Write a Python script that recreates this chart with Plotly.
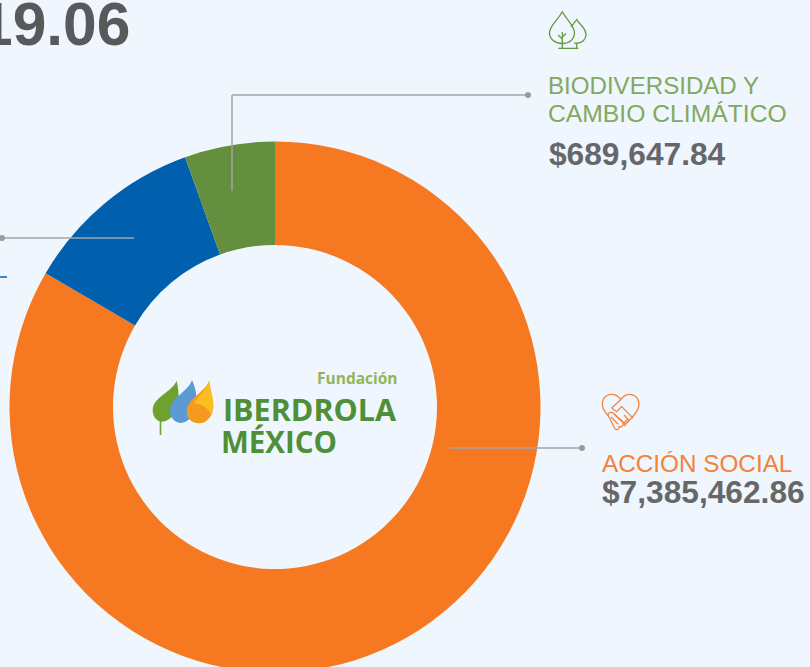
import plotly.graph_objects as go

W, H = 810, 680
BG = "#EFF6FD"

categories = ["Acción Social", "Educación", "Biodiversidad y Cambio Climático"]
drawn_share = [83.4, 11.1, 5.5]
slice_colors = ["#F67821", "#0060AD", "#648F3F"]

GRAY = "#666769"
LINE = "#A3A5A8"
GREEN_T = "#82A95E"
ORANGE_T = "#F58238"

def px(x): return x / W
def py(y): return 1 - y / H

fig = go.Figure(go.Pie(
    labels=categories, values=drawn_share, hole=162 / 265.5, sort=False,
    direction="clockwise", rotation=0, textinfo="none", hoverinfo="skip",
    marker=dict(colors=slice_colors, line=dict(width=0)), showlegend=False,
    domain=dict(x=[px(9.5), px(540.5)], y=[py(672.5), py(141.5)]),
))

shapes = []
def line(x0, y0, x1, y1, color=LINE, w=1.5):
    shapes.append(dict(type="line", xref="paper", yref="paper", x0=px(x0), y0=py(y0), x1=px(x1), y1=py(y1),
                       line=dict(color=color, width=w), layer="above"))
def dot(x, y, r=3, color="#9A9CA0"):
    shapes.append(dict(type="circle", xref="paper", yref="paper", x0=px(x-r), y0=py(y-r), x1=px(x+r), y1=py(y+r),
                       fillcolor=color, line=dict(width=0), layer="above"))
def svg(d, fill=None, stroke=None, w=1.3):
    shapes.append(dict(type="path", xref="x", yref="y", path=d, layer="above",
                       fillcolor=fill if fill else "rgba(0,0,0,0)",
                       line=dict(color=stroke if stroke else "rgba(0,0,0,0)", width=w if stroke else 0)))

line(232, 95, 528, 95); line(232, 95, 232, 191); dot(528, 95)
line(2, 238, 134, 238); dot(2, 238)
line(449, 448, 582, 448); dot(582, 448)
line(0, 277, 7, 277, "#0060AD", 1.5)

# tree icon
TG = "#629A3D"
svg("M562.3,11.7 C557,21 549.5,26 549.5,33 C549.5,39 555,43.5 562.3,43.5 C569.5,43.5 574.5,39 574.5,33 C574.5,26 567.5,21 562.3,11.7 Z", stroke=TG)
svg("M571,27 C573,24 575,22 576.7,19.5 C579,24 586,28 586,34.5 C586,39.5 582,43.2 576.7,43.2 L574,43.2", stroke=TG)
svg("M562.3,32 L562.3,48.3 M558.3,48.3 L578.3,48.3 M576.7,43 L576.7,48.3 M562.3,39 L558,35 M562.3,37 L566,33.5", stroke=TG)

# handshake heart icon
HO = ORANGE_T
svg("M608.5,416 C604.5,412 602.3,408.5 602.3,403.5 C602.3,398 606.5,394.3 611.5,394.3 C615.5,394.3 618.5,396.3 620.7,399.5 C623,396.3 626,394.3 630,394.3 C635,394.3 639,398.5 639,404 C639,409 636,413 632.5,417 L624,426", stroke=HO)
svg("M620.5,400 L611.7,408 L616.7,411.7 L621.7,406.7 L633.3,418.3 M628,419 L624,423 M624,415 L629.5,421 M620,419 L625,424", stroke=HO, w=1.2)
svg("M608.5,416 C606,413 612,411 614,413.5 L622,421.5 C625,424.5 622,428 619,426.5 C620,430 616,430.5 614.5,428 L608.5,416 M611,417 L618,424 M614,414 L620,420", stroke=HO, w=1.2)

# logo leaves
svg("M176.7,380.7 C172,392 153,397 152.7,410 C152.7,417 157,421.5 162,421.7 C172,421 183,408 176.7,380.7 Z", fill="#6FA030")
svg("M160.5,420 L160.5,435", stroke="#6FA030", w=1.6)
svg("M192,380 C188,392 170,398 170,410 C170,418 175,423 181,423 C194,422 202,402 192,380 Z", fill="#5B9BD5")
svg("M209.3,380.7 C205,392 186.7,399 186.7,411 C186.7,419 192,423.3 199.3,423.3 C207,423 213.3,416 213.3,406 C213.3,397 210,390 209.3,380.7 Z", fill="#F39A1F")
svg("M209.3,380.7 C206,391 197,396 194,404 C200,403 208,408 211,414 C213,411 213.3,409 213.3,406 C213.3,397 210,390 209.3,380.7 Z", fill="#FBBE22")

def text(x, y, s, size, color, bold=False, anchor="left", family="Liberation Sans"):
    return dict(xref="paper", yref="paper", x=px(x), y=py(y), text=f"<b>{s}</b>" if bold else s,
                showarrow=False, xanchor=anchor, yanchor="middle",
                font=dict(family=family, size=size, color=color))

annotations = [
    text(132, 24, "19.06", 60.5, "#58595B", True, "right"),
    text(546, 85, "BIODIVERSIDAD Y", 24.1, GREEN_T),
    text(546, 114, "CAMBIO CLIMÁTICO", 24.7, GREEN_T),
    text(547, 154, "$689,647.84", 31.7, GRAY, True),
    text(599.5, 463, "ACCIÓN SOCIAL", 24.3, ORANGE_T),
    text(600, 492, "$7,385,462.86", 31.7, GRAY, True),
    text(400, 378, "Fundación", 15.5, "#93B45A", True, "right", "Open Sans"),
    text(399, 409, "IBERDROLA", 30.5, "#4E8F38", True, "right", "Open Sans"),
    text(219, 441, "MÉXICO", 29.5, "#4E8F38", True, "left", "Open Sans"),
]

fig.update_layout(
    width=W, height=H, margin=dict(l=0, r=0, t=0, b=0), autosize=False,
    paper_bgcolor=BG, plot_bgcolor="rgba(0,0,0,0)", shapes=shapes, annotations=annotations,
    xaxis=dict(range=[0, W], visible=False, domain=[0, 1]),
    yaxis=dict(range=[H, 0], visible=False, domain=[0, 1]),
)
fig.add_trace(go.Scatter(x=[0], y=[0], mode="markers", marker=dict(opacity=0), hoverinfo="skip", showlegend=False))

fig.write_html("out.html", config={"displayModeBar": False},
               post_script="document.body.style.margin='0';document.body.style.overflow='hidden';document.documentElement.style.overflow='hidden';document.documentElement.style.background='%s';" % BG)
